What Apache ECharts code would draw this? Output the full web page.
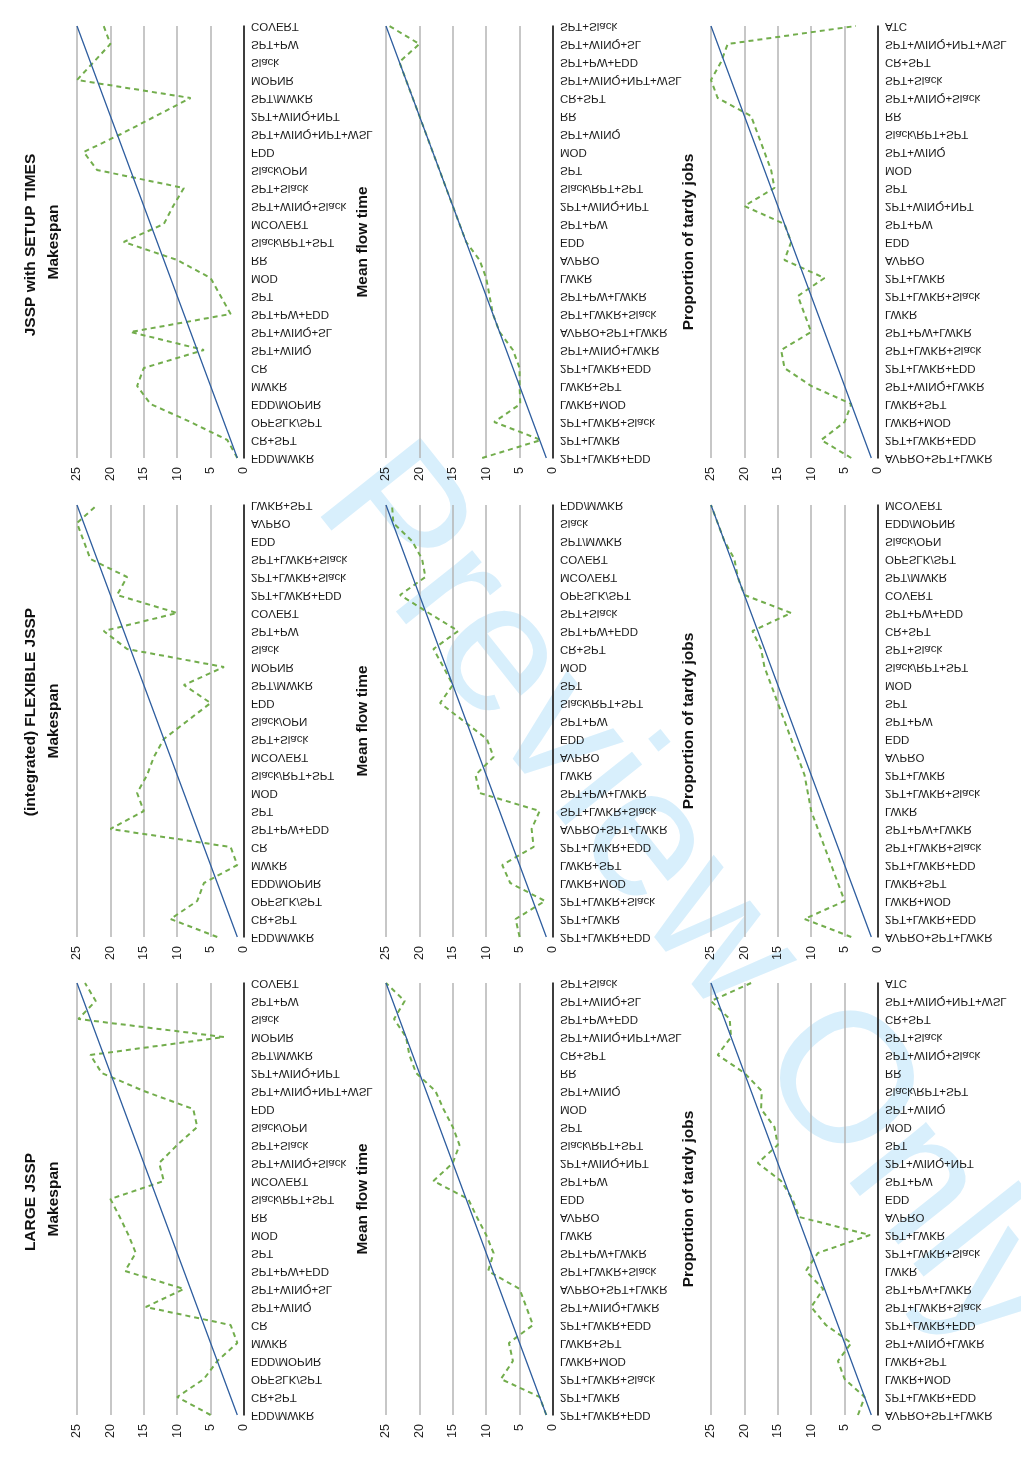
<!DOCTYPE html>
<html><head><meta charset="utf-8">
<script src="https://cdn.jsdelivr.net/npm/echarts@6/dist/echarts.min.js"></script>
<style>html,body{margin:0;padding:0;background:#fff}#c{width:1021px;height:1458px}</style>
</head><body><div id="c"></div>
<script>
// ---------- DATA (categories listed bottom -> top) ----------
const valueTicks = [0, 5, 10, 15, 20, 25];
const blueRanks = [1,2,3,4,5,6,7,8,9,10,11,12,13,14,15,16,17,18,19,20,21,22,23,24,25];

const makespanCats = ['FDD/MWKR','CR+SPT','OPFSLK/SPT','EDD/MOPNR','MWKR','CR','SPT+WINQ','SPT+WINQ+SL','SPT+PW+FDD','SPT','MOD','RR','Slack/RPT+SPT','MCOVERT','SPT+WINQ+Slack','SPT+Slack','Slack/OPN','FDD','SPT+WINQ+NPT+WSL','2PT+WINQ+NPT','SPT/MWKR','MOPNR','Slack','SPT+PW','COVERT'];
const meanFlowCats = ['2PT+LWKR+FDD','2PT+LWKR','2PT+LWKR+Slack','LWKR+MOD','LWKR+SPT','2PT+LWKR+EDD','SPT+WINQ+LWKR','AVPRO+SPT+LWKR','SPT+LWKR+Slack','SPT+PW+LWKR','LWKR','AVPRO','EDD','SPT+PW','2PT+WINQ+NPT','Slack/RPT+SPT','SPT','MOD','SPT+WINQ','RR','CR+SPT','SPT+WINQ+NPT+WSL','SPT+PW+FDD','SPT+WINQ+SL','SPT+Slack'];
const tardyCats = ['AVPRO+SPT+LWKR','2PT+LWKR+EDD','LWKR+MOD','LWKR+SPT','SPT+WINQ+LWKR','2PT+LWKR+FDD','SPT+LWKR+Slack','SPT+PW+LWKR','LWKR','2PT+LWKR+Slack','2PT+LWKR','AVPRO','EDD','SPT+PW','2PT+WINQ+NPT','SPT','MOD','SPT+WINQ','Slack/RPT+SPT','RR','SPT+WINQ+Slack','SPT+Slack','CR+SPT','SPT+WINQ+NPT+WSL','ATC'];
const flexMakespanCats = ['FDD/MWKR','CR+SPT','OPFSLK/SPT','EDD/MOPNR','MWKR','CR','SPT+PW+FDD','SPT','MOD','Slack/RPT+SPT','MCOVERT','SPT+Slack','Slack/OPN','FDD','SPT/MWKR','MOPNR','Slack','SPT+PW','COVERT','2PT+LWKR+FDD','2PT+LWKR+Slack','SPT+LWKR+Slack','EDD','AVPRO','LWKR+SPT'];
const flexMeanFlowCats = ['2PT+LWKR+FDD','2PT+LWKR','2PT+LWKR+Slack','LWKR+MOD','LWKR+SPT','2PT+LWKR+EDD','AVPRO+SPT+LWKR','SPT+LWKR+Slack','SPT+PW+LWKR','LWKR','AVPRO','EDD','SPT+PW','Slack/RPT+SPT','SPT','MOD','CR+SPT','SPT+PW+FDD','SPT+Slack','OPFSLK/SPT','MCOVERT','COVERT','SPT/MWKR','Slack','FDD/MWKR'];
const flexTardyCats = ['AVPRO+SPT+LWKR','2PT+LWKR+EDD','LWKR+MOD','LWKR+SPT','2PT+LWKR+FDD','SPT+LWKR+Slack','SPT+PW+LWKR','LWKR','2PT+LWKR+Slack','2PT+LWKR','AVPRO','EDD','SPT+PW','SPT','MOD','Slack/RPT+SPT','SPT+Slack','CR+SPT','SPT+PW+FDD','COVERT','SPT/MWKR','OPFSLK/SPT','Slack/OPN','EDD/MOPNR','MCOVERT'];

const setupMakespanGreen = [1,2.5,8,14,16,15,6,17,2,3.5,5,10,18,12,10.6,9,22,24,18.4,13.2,8,25,22.5,20,21];
const setupMeanFlowGreen = [10.6,1.8,8.8,4.9,5,5,6,8,9,9.5,10,11,13,14,15,16,17,18,19,20,21,22,23,20,24.5];
const setupTardyGreen = [4,8.5,5,4,10,14,14.5,10,11,12,8,14,13,14,20,15.5,16,17,18,19,24,25,23.5,22.5,3.3];
const flexMakespanGreen = [4,11,7,6,1,2,20,15,16,14.5,13.5,12,8.5,5,9,3,17.5,21,10,19,17.5,23,24,25,22];
const flexMeanFlowGreen = [5,5.6,1.2,6.4,7.6,2.9,3.2,2,11,11.6,8.9,9.9,13.4,16.9,15,16.4,17.9,14.2,18.6,22.9,19.1,19.6,21.1,23.9,24.1];
const flexTardyGreen = [4,11,5,6,7,8,9,10,10.5,11,12,13,14,15,16,17,17.5,18.8,13,20,21,21.5,23,24,25];
const largeMakespanGreen = [5,10,6,4,1,2,14.7,9,17.8,16.2,17.3,18.6,20,12,12.7,10,7,7.6,15,21.3,23,3,24.8,22.2,23.8];
const largeMeanFlowGreen = [1,2,7.8,6,6.6,3,4,5,9.7,8.9,10,11.4,12.7,17.9,15,14,15,16.4,17.6,20.5,21.5,22,23.8,22.2,25];
const largeTardyGreen = [3,2,5,6,4,7.8,10,8.2,10.8,9,1.2,11.8,12.8,14.5,18,15,15.5,17.5,17.4,20,24,22,22.2,25,19];

const rowTitles = ['JSSP with SETUP TIMES', '(integrated) FLEXIBLE JSSP', 'LARGE JSSP'];
const panelTitles = ['Makespan', 'Mean flow time', 'Proportion of tardy jobs'];

const panels = [
  {cats: makespanCats, green: setupMakespanGreen},
  {cats: meanFlowCats, green: setupMeanFlowGreen},
  {cats: tardyCats, green: setupTardyGreen},
  {cats: flexMakespanCats, green: flexMakespanGreen},
  {cats: flexMeanFlowCats, green: flexMeanFlowGreen},
  {cats: flexTardyCats, green: flexTardyGreen},
  {cats: makespanCats, green: largeMakespanGreen},
  {cats: meanFlowCats, green: largeMeanFlowGreen},
  {cats: tardyCats, green: largeTardyGreen}
];

// ---------- LAYOUT ----------
const colLeft = [77, 386, 711], panelW = 167;
const rowTop = [26, 505, 983], panelH = 432;
const FONT = '"Liberation Sans", Arial, Helvetica, sans-serif';
const BLUE = '#2f5e9f', GREEN = '#72ad4c';

const chart = echarts.init(document.getElementById('c'), null, {renderer: 'canvas'});
const grids = [], xAxes = [], yAxes = [], series = [];
panels.forEach((p, i) => {
  const r = Math.floor(i / 3), c = i % 3;
  grids.push({left: colLeft[c], top: rowTop[r], width: panelW, height: panelH, containLabel: false});
  xAxes.push({
    type: 'value', gridIndex: i, inverse: true, min: valueTicks[0], max: valueTicks[valueTicks.length - 1], interval: 5,
    axisLine: {show: false}, axisTick: {show: false},
    splitLine: {show: true, lineStyle: {color: '#b4b4b4', width: 1.5}},
    axisLabel: {rotate: 90, margin: 9, fontSize: 12.5, color: '#222', fontFamily: FONT}
  });
  yAxes.push({
    type: 'category', gridIndex: i, position: 'right', boundaryGap: false, data: p.cats,
    axisLine: {show: true, onZero: false, lineStyle: {color: '#111', width: 1.5}},
    axisTick: {show: false}, axisLabel: {show: false}, splitLine: {show: false}
  });
  series.push({
    type: 'line', xAxisIndex: i, yAxisIndex: i, data: blueRanks, showSymbol: false, silent: true,
    lineStyle: {color: BLUE, width: 1.3}, z: 3
  });
  series.push({
    type: 'line', xAxisIndex: i, yAxisIndex: i, data: p.green, showSymbol: false, silent: true,
    lineStyle: {color: GREEN, width: 2, type: [5, 4]}, z: 2
  });
});

chart.setOption({
  animation: false,
  backgroundColor: '#fff',
  grid: grids, xAxis: xAxes, yAxis: yAxes, series: series
});

// ---------- TEXT (labels flipped vertically, titles rotated) ----------
const g = [];
g.push({
  type: 'text', x: 690, y: 900, rotation: -0.9, z: -10, silent: true,
  style: {text: 'Preview Only', fontSize: 185, fontFamily: FONT, fill: '#d8effc', textAlign: 'center', textVerticalAlign: 'middle'}
});
panels.forEach((p, i) => {
  p.cats.forEach((name, k) => {
    const pt = chart.convertToPixel({xAxisIndex: i, yAxisIndex: i}, [0, k]);
    g.push({
      type: 'text', x: pt[0] + 7, y: pt[1], scaleY: -1, silent: true, z: 20,
      style: {text: name, fontSize: 11.5, fontFamily: FONT, fill: '#1a1a1a', textAlign: 'left', textVerticalAlign: 'middle'}
    });
  });
});
const rowTitleY = [245, 712, 1202];
const panelTitleX = [54, 363, 689];
const rowCenterY = [242, 721, 1199];
rowTitles.forEach((t, r) => {
  g.push({type: 'text', x: 31, y: rowTitleY[r], rotation: Math.PI / 2, silent: true, z: 20,
    style: {text: t, fontSize: 15.5, fontWeight: 'bold', fontFamily: FONT, fill: '#111', textAlign: 'center', textVerticalAlign: 'middle'}});
  panelTitles.forEach((pt, c) => {
    g.push({type: 'text', x: panelTitleX[c], y: rowCenterY[r], rotation: Math.PI / 2, silent: true, z: 20,
      style: {text: pt, fontSize: 15.5, fontWeight: 'bold', fontFamily: FONT, fill: '#111', textAlign: 'center', textVerticalAlign: 'middle'}});
  });
});
chart.setOption({graphic: {elements: g}});
</script>
</body></html>
